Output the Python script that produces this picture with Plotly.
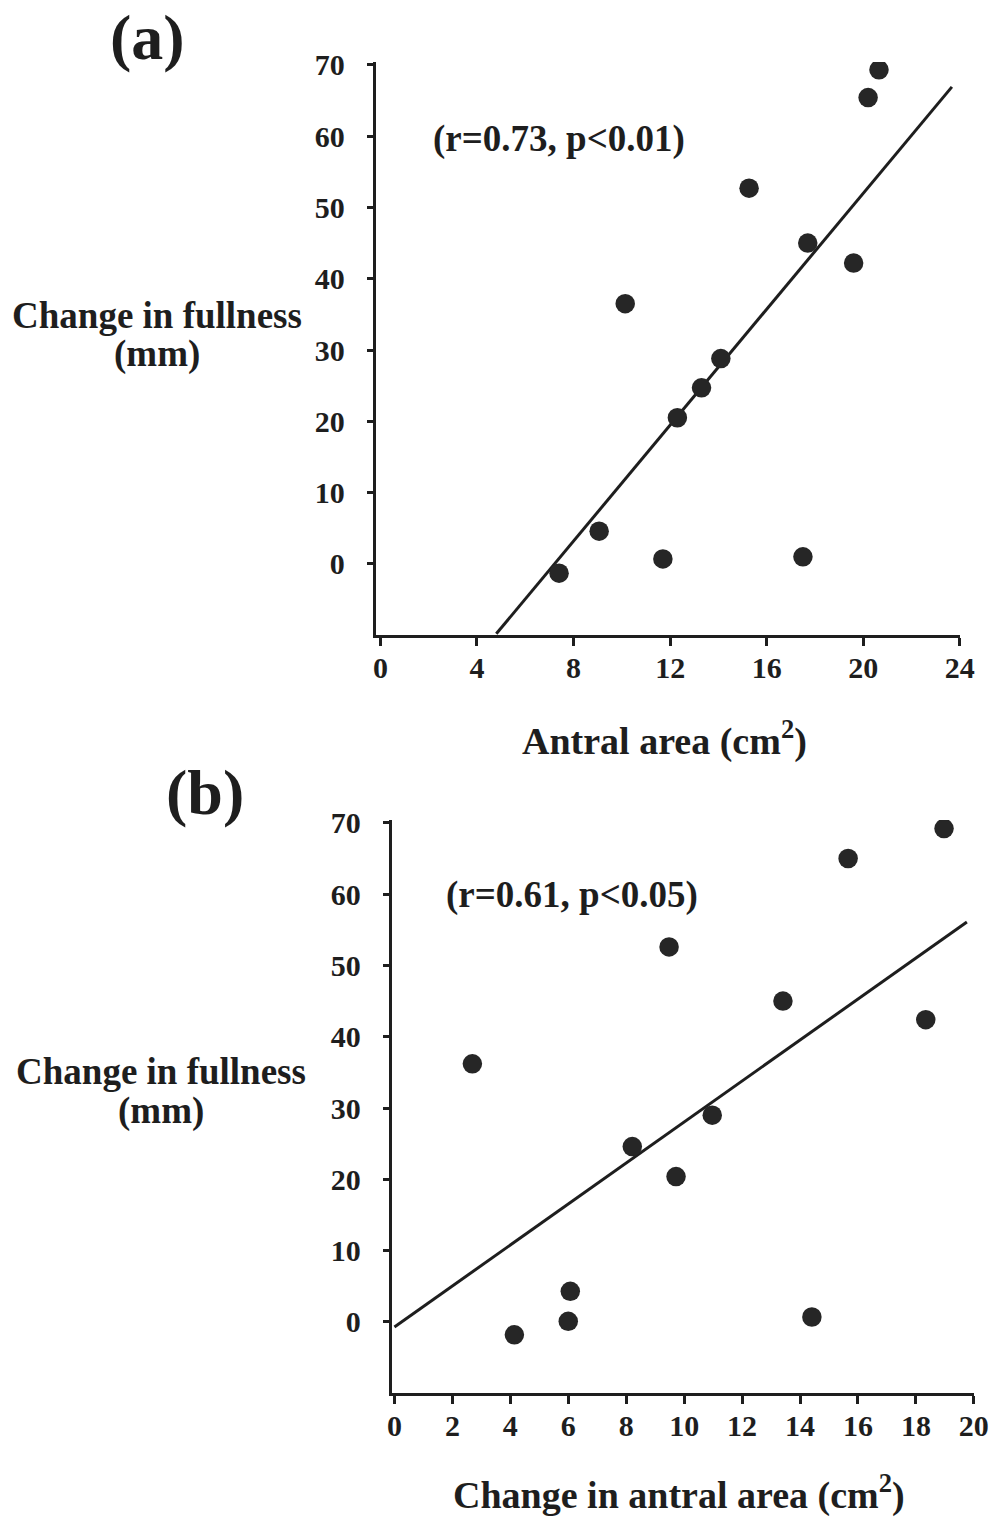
import plotly.graph_objects as go

# Panel (a): antral area vs change in fullness
a_x = [20.65, 20.2, 15.27, 17.7, 19.6, 10.14, 14.1, 13.3, 12.3, 9.06, 7.4, 11.7, 17.5]
a_y = [69.3, 65.4, 52.7, 45.0, 42.2, 36.5, 28.8, 24.7, 20.5, 4.6, -1.3, 0.7, 1.0]
a_fit_x = [4.8, 23.67]
a_fit_y = [-9.8, 66.9]

# Panel (b): change in antral area vs change in fullness
b_x = [9.48, 2.69, 18.97, 15.66, 13.41, 18.34, 8.21, 9.72, 6.07, 6.0, 4.14, 10.97, 14.41]
b_y = [52.6, 36.2, 69.2, 65.0, 45.0, 42.4, 24.6, 20.4, 4.3, 0.1, -1.8, 29.0, 0.7]
b_fit_x = [0.0, 19.76]
b_fit_y = [-0.7, 56.1]

a_xticks = [0, 4, 8, 12, 16, 20, 24]
b_xticks = [0, 2, 4, 6, 8, 10, 12, 14, 16, 18, 20]
yticks = [0, 10, 20, 30, 40, 50, 60, 70]

W, H = 992, 1518
FONT = "Liberation Serif"
INK = "#1e1e1e"
DOT = "#262626"

# screen-pixel -> paper fraction (compensates the capture's inset/scale)
def px(x):
    return ((x - 5) / 0.981) / W

def py(y):
    return 1 - ((y - 12) / 0.992) / H

fig = go.Figure()

fig.add_trace(go.Scatter(x=a_fit_x, y=a_fit_y, mode="lines",
                         line=dict(color=INK, width=3), xaxis="x", yaxis="y",
                         showlegend=False, hoverinfo="skip"))
fig.add_trace(go.Scatter(x=a_x, y=a_y, mode="markers",
                         marker=dict(color=DOT, size=19.5, line=dict(width=0)),
                         xaxis="x", yaxis="y", showlegend=False))
fig.add_trace(go.Scatter(x=b_fit_x, y=b_fit_y, mode="lines",
                         line=dict(color=INK, width=3), xaxis="x2", yaxis="y2",
                         showlegend=False, hoverinfo="skip"))
fig.add_trace(go.Scatter(x=b_x, y=b_y, mode="markers",
                         marker=dict(color=DOT, size=19.5, line=dict(width=0)),
                         xaxis="x2", yaxis="y2", showlegend=False))

tickfont = dict(family=FONT, size=30, color=INK, weight="bold")
common_x = dict(showgrid=False, zeroline=False, showline=True, linecolor=INK,
                linewidth=2.5, ticks="outside", ticklen=8, tickwidth=2.5,
                tickcolor=INK, tickfont=tickfont, ticklabelstandoff=-4)
common_y = dict(showgrid=False, zeroline=False, showline=True, linecolor=INK,
                linewidth=2.5, ticks="outside", ticklen=6, tickwidth=2.5,
                tickcolor=INK, tickfont=tickfont, range=[-10, 70.4],
                tickvals=yticks, ticklabelstandoff=16)

fig.update_layout(
    width=W, height=H,
    margin=dict(l=0, r=0, t=0, b=0),
    paper_bgcolor="white", plot_bgcolor="white",
    xaxis=dict(domain=[px(376), px(961)], range=[-0.2, 24], tickvals=a_xticks,
               anchor="y", **common_x),
    yaxis=dict(domain=[py(634), py(60)], anchor="x", **common_y),
    xaxis2=dict(domain=[px(392), px(975)], range=[-0.1, 20], tickvals=b_xticks,
                anchor="y2", **common_x),
    yaxis2=dict(domain=[py(1393), py(819)], anchor="x2", **common_y),
)

def ann(text, x, y, size, xanchor="center"):
    fig.add_annotation(text=text, x=px(x), y=py(y), xref="paper", yref="paper",
                       showarrow=False, xanchor=xanchor, yanchor="middle",
                       align="center",
                       font=dict(family=FONT, size=size, color=INK))

ann("<b>(a)</b>", 148, 36, 64)
ann("<b>(b)</b>", 205, 791, 64)
ann("<b>Change in fullness</b>", 157, 314, 37)
ann("<b>(mm)</b>", 157, 352, 37)
ann("<b>Change in fullness</b>", 161, 1071, 37)
ann("<b>(mm)</b>", 161, 1110, 37)
ann("<b>Antral area (cm<sup>2</sup>)</b>", 665, 737, 38)
ann("<b>Change in antral area (cm<sup>2</sup>)</b>", 680, 1492, 38)
ann("<b>(r=0.73, p<0.01)</b>", 560, 137, 37)
ann("<b>(r=0.61, p<0.05)</b>", 573, 894, 37)

fig.write_html("out.html")
